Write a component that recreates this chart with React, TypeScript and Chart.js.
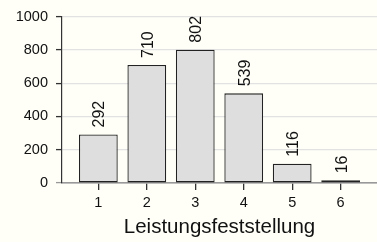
import React, { useEffect, useRef } from 'react';
import { Chart, registerables } from 'chart.js';

Chart.register(...registerables);

const categories = [1, 2, 3, 4, 5, 6];
const counts = [292, 710, 802, 539, 116, 16];
const yTicks = [0, 200, 400, 600, 800, 1000];
const xTitle = 'Leistungsfeststellung';

const FONT = '"Liberation Sans", Arial, Helvetica, sans-serif';

const valueLabels = {
  id: 'valueLabels',
  afterDatasetsDraw(chart: any) {
    const ctx = chart.ctx;
    const meta = chart.getDatasetMeta(0);
    ctx.save();
    ctx.font = `16px ${FONT}`;
    ctx.fillStyle = '#111';
    ctx.textAlign = 'left';
    ctx.textBaseline = 'alphabetic';
    meta.data.forEach((el: any, i: number) => {
      const { x, y } = el.getProps(['x', 'y'], true);
      ctx.save();
      ctx.translate(x + 6, y - 7);
      ctx.rotate(-Math.PI / 2);
      ctx.fillText(String(counts[i]), 0, 0);
      ctx.restore();
    });
    ctx.restore();
  },
};

export default function App() {
  const ref = useRef<HTMLCanvasElement | null>(null);
  useEffect(() => {
    if (!ref.current) return;
    const chart = new Chart(ref.current, {
      type: 'bar',
      data: {
        datasets: [
          {
            data: categories.map((c, i) => ({ x: c, y: counts[i] })) as any,
            backgroundColor: '#dedede',
            borderColor: '#222',
            borderWidth: 1.3,
            borderSkipped: false,
            barPercentage: 0.8,
            categoryPercentage: 1,
          },
        ],
      },
      options: {
        animation: false,
        responsive: false,
        devicePixelRatio: 1,
        layout: { padding: { top: 15, right: 0, left: 0, bottom: 0 } },
        plugins: { legend: { display: false }, tooltip: { enabled: false } },
        scales: {
          x: {
            type: 'linear',
            offset: false,
            min: 0.25,
            max: 6.75,
            afterBuildTicks: (s: any) => {
              s.ticks = categories.map((v) => ({ value: v }));
            },
            afterFit: (s: any) => {
              s.height = 59;
            },
            ticks: {
              font: { family: FONT, size: 14.5 },
              color: '#111',
              padding: 4,
              maxRotation: 0,
              autoSkip: false,
              callback: (v: any) => String(v),
            },
            grid: {
              offset: false,
              drawOnChartArea: false,
              drawTicks: true,
              tickLength: 7,
              color: '#333',
              tickColor: '#333',
              lineWidth: 1.3,
              tickWidth: 1.3,
            },
            border: { display: true, color: '#999', width: 1.5 },
            title: {
              display: true,
              text: xTitle,
              color: '#111',
              font: { family: FONT, size: 20.5 },
              padding: { top: 0, bottom: 2 },
            },
          },
          y: {
            min: 0,
            max: 1000,
            afterBuildTicks: (s: any) => {
              s.ticks = yTicks.map((v) => ({ value: v }));
            },
            afterFit: (s: any) => {
              s.width = 62;
            },
            ticks: {
              font: { family: FONT, size: 14.5 },
              color: '#111',
              padding: 8,
              callback: (v: any) => String(v),
            },
            grid: {
              color: (c: any) => (c.tick && c.tick.value === 0 ? '#999' : '#e2e2e2'),
              tickColor: (c: any) => (c.tick && c.tick.value === 0 ? '#999' : '#333'),
              tickLength: 6,
              lineWidth: 1.2,
              tickWidth: 1.3,
            },
            border: { display: true, color: '#333', width: 1.2 },
          },
        },
      },
      plugins: [valueLabels],
    });
    return () => chart.destroy();
  }, []);
  return (
    <div
      style={{
        position: 'fixed',
        left: 0,
        top: 0,
        width: 377,
        height: 242,
        background: '#fffff8',
      }}
    >
      <canvas ref={ref} width={377} height={242} style={{ display: 'block' }} />
    </div>
  );
}
